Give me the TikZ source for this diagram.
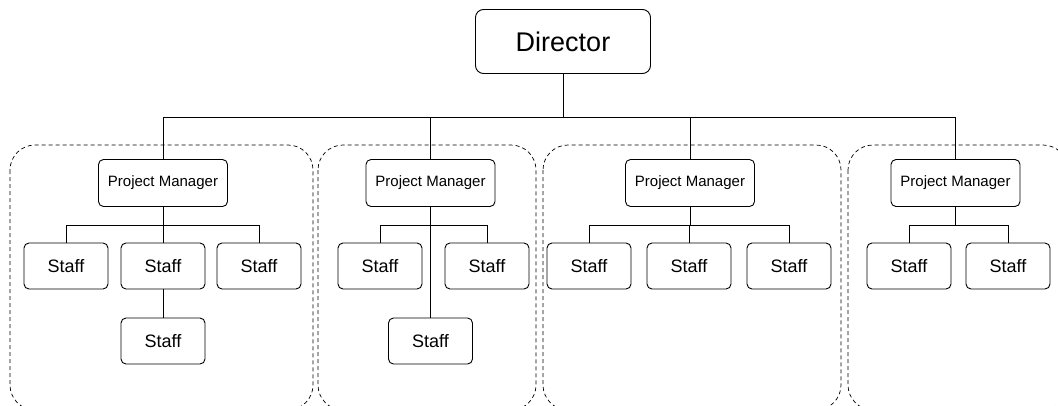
\documentclass[tikz,border=0pt]{standalone}
\usepackage{fontspec}
\setmainfont{Liberation Sans}
\usepackage{tikz}
\usetikzlibrary{calc}

\begin{document}
\begin{tikzpicture}[x=1pt,y=-1pt,
        box/.style={draw,line width=0.9pt,rounded corners=5pt,inner sep=0pt,align=center},
        dirbox/.style={box,rounded corners=8pt,minimum width=175pt,minimum height=64pt,font=\fontsize{27}{30}\selectfont},
        pmbox/.style={box,minimum width=129pt,minimum height=47pt,font=\fontsize{15}{18}\selectfont},
        staffbox/.style={box,minimum width=84pt,minimum height=46pt,font=\fontsize{18}{21}\selectfont},
        group/.style={line width=0.7pt,dash pattern=on 4pt off 3pt,rounded corners=25pt},
        link/.style={line width=0.9pt}]
        \useasboundingbox (0,0) rectangle (1058,405);

        \begin{scope}
        \clip (0,0) rectangle (1058,405);
        \draw[group] (10,145) rectangle (313,410);
        \draw[group] (318,145) rectangle (536,410);
        \draw[group] (543,145) rectangle (841,410);
        \draw[group] (848,145) rectangle (1068,410);
        \end{scope}

        \node[dirbox] (dir) at (563,41.5) {Director};

        \node[pmbox] (pm1) at (163,183) {Project Manager};
        \node[pmbox] (pm2) at (430.5,183) {Project Manager};
        \node[pmbox] (pm3) at (690,183) {Project Manager};
        \node[pmbox] (pm4) at (955.5,183) {Project Manager};

        \node[staffbox] (s11) at (66,266) {Staff};
        \node[staffbox] (s12) at (163,266) {Staff};
        \node[staffbox] (s13) at (259,266) {Staff};
        \node[staffbox] (s14) at (163,341) {Staff};

        \node[staffbox] (s21) at (380,266) {Staff};
        \node[staffbox] (s22) at (487,266) {Staff};
        \node[staffbox] (s23) at (430.5,341) {Staff};

        \node[staffbox] (s31) at (589,266) {Staff};
        \node[staffbox] (s32) at (689,266) {Staff};
        \node[staffbox] (s33) at (789,266) {Staff};

        \node[staffbox] (s41) at (909,266) {Staff};
        \node[staffbox] (s42) at (1008,266) {Staff};

        \draw[link] (dir.south) -- ++(0,43) coordinate (top);
        \foreach \p in {pm1,pm2,pm3,pm4}
            \draw[link] (top) -| (\p.north);

        \foreach \p/\b in {pm1/b1,pm2/b2,pm3/b3,pm4/b4}
            \draw[link] (\p.south) -- ++(0,18) coordinate (\b);

        \foreach \b/\s in {b1/s11,b1/s12,b1/s13,b2/s21,b2/s22,b3/s31,b3/s32,b3/s33,b4/s41,b4/s42}
            \draw[link] (\b) -| (\s.north);
        \draw[link] (s12.south) -- (s14.north);
        \draw[link] (b2) -- (s23.north);
\end{tikzpicture}
\end{document}
